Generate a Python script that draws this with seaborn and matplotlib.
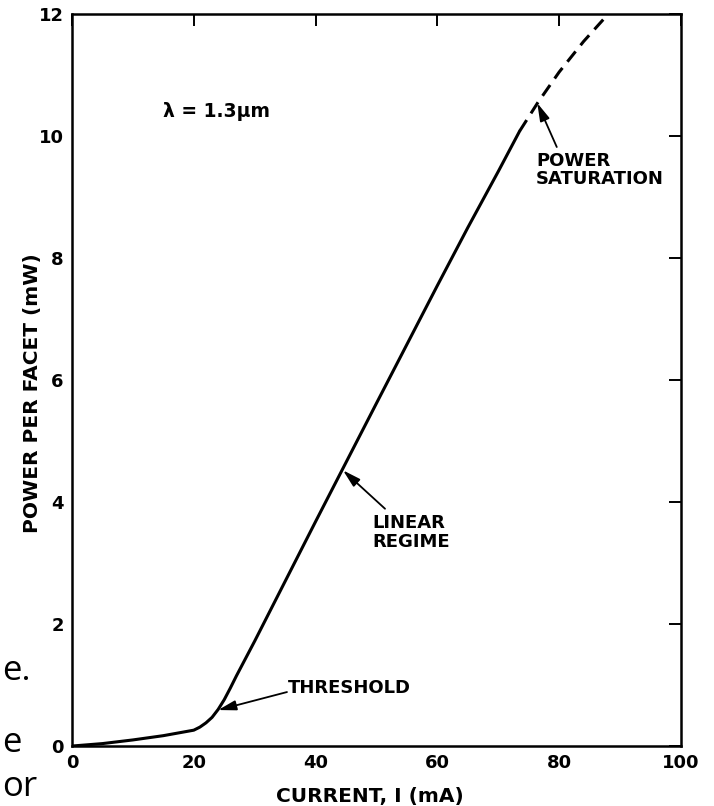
import matplotlib
matplotlib.use("Agg")
import matplotlib.pyplot as plt
import seaborn as sns
import pandas as pd

current_solid = [0, 5, 10, 15, 20, 21, 22, 23, 24, 25, 26, 27, 30, 40, 50, 60, 65, 70, 73.5]
power_solid = [0, 0.04, 0.1, 0.17, 0.26, 0.31, 0.38, 0.47, 0.6, 0.76, 0.95, 1.15, 1.72,
               3.68, 5.62, 7.55, 8.5, 9.42, 10.08]

# Extrapolated part (dashed, power saturation)
current_dashed = [73.5, 76.5, 80, 84, 88.5]
power_dashed = [10.08, 10.55, 11.05, 11.55, 12.05]

x_ticks = [0, 20, 40, 60, 80, 100]
y_ticks = [0, 2, 4, 6, 8, 10, 12]

df_solid = pd.DataFrame({"current": current_solid, "power": power_solid})
df_dashed = pd.DataFrame({"current": current_dashed, "power": power_dashed})

sns.set_theme(style="white")
plt.rcParams['font.family'] = ['DejaVu Sans']
plt.rcParams['text.color'] = 'black'
plt.rcParams['axes.labelcolor'] = 'black'

fig = plt.figure(figsize=(7.14, 8.06), dpi=100)
ax = fig.add_axes([0.1008, 0.0744, 0.853, 0.9082])

sns.lineplot(data=df_solid, x="current", y="power", color="black", linewidth=2.2, ax=ax)
sns.lineplot(data=df_dashed, x="current", y="power", color="black", linewidth=2.2,
             linestyle=(0, (4.3, 2.6)), ax=ax)

ax.set_xlim(0, 100)
ax.set_ylim(0, 12)
ax.set_xticks(x_ticks)
ax.set_yticks(y_ticks)
ax.tick_params(direction="in", length=8.5, width=1.4, colors="black",
               top=True, right=True, labelsize=13, pad=6)
for lbl in ax.get_xticklabels() + ax.get_yticklabels():
    lbl.set_fontweight("bold")
for side in ax.spines.values():
    side.set_color("black")
    side.set_linewidth(1.8)

ax.set_xlabel("CURRENT, I (mA)", fontsize=14.5, fontweight="bold")
ax.set_ylabel("POWER PER FACET (mW)", fontsize=14.5, fontweight="bold")
ax.xaxis.set_label_coords(0.489, -0.056)
ax.yaxis.set_label_coords(-0.05, 0.482)

# wavelength note
ax.text(15, 10.4, "λ = 1.3μm", fontsize=13.5, fontweight="bold", ha="left", va="center")

arrow = dict(arrowstyle="-|>,head_length=0.9,head_width=0.25", color="black",
             lw=1.3, shrinkA=0, shrinkB=0)
note = dict(fontsize=13, fontweight="bold")

# threshold
ax.text(35.5, 0.95, "THRESHOLD", ha="left", va="center", **note)
ax.annotate("", xy=(24.0, 0.59), xytext=(35.3, 0.885), arrowprops=arrow)

# linear regime
ax.text(49.4, 3.8, "LINEAR\nREGIME", ha="left", va="top", linespacing=1.05, **note)
ax.annotate("", xy=(44.5, 4.52), xytext=(51.4, 3.89), arrowprops=arrow)

# power saturation
ax.text(76.2, 9.74, "POWER\nSATURATION", ha="left", va="top", linespacing=1.0, **note)
ax.annotate("", xy=(76.4, 10.54), xytext=(79.6, 9.82), arrowprops=arrow)

# fragments of neighbouring page text visible at left edge
side_font = ["Open Sans", "DejaVu Sans"]
fig.text(2 / 714, 1 - 680 / 806, "e.", fontsize=25, ha="left", va="baseline", family=side_font)
fig.text(2 / 714, 1 - 752 / 806, "e", fontsize=25, ha="left", va="baseline", family=side_font)
fig.text(2 / 714, 2 / 806, "or", fontsize=25, ha="left", va="bottom", family=side_font)

fig.savefig("out.png", dpi=100, facecolor="white")
